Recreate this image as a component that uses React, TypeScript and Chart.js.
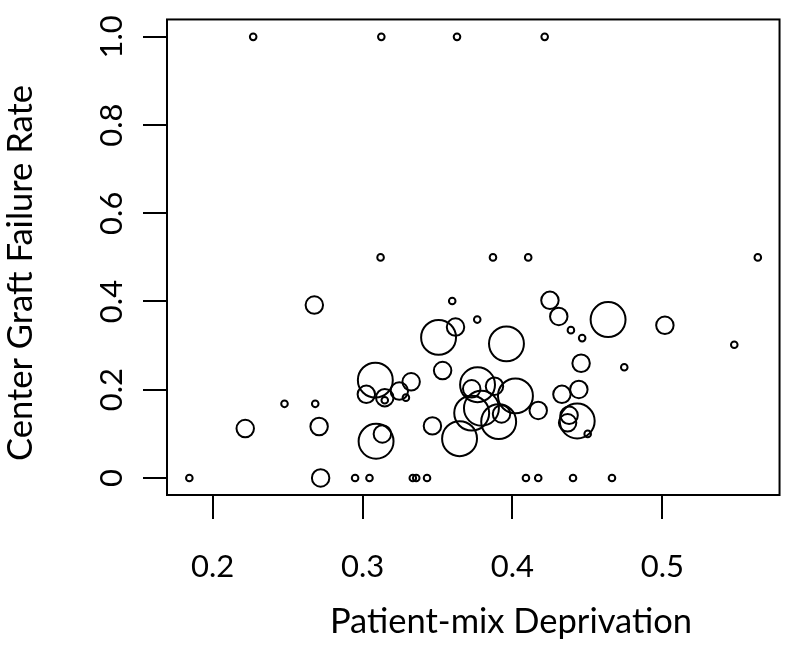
import React, { useEffect, useRef } from 'react';
import { Chart, registerables } from 'chart.js';

Chart.register(...registerables);

// Patient-mix deprivation (x), center graft failure rate (y), relative center size
const deprivation = [
  0.227, 0.3125, 0.363, 0.4215,
  0.312, 0.387, 0.4105, 0.5637,
  0.1844, 0.295, 0.3046, 0.3335, 0.3358, 0.343, 0.409, 0.4172, 0.4404, 0.4664, 0.272,
  0.2678, 0.2479, 0.2684, 0.2217, 0.271,
  0.3598, 0.3765, 0.3507, 0.362, 0.396, 0.425, 0.4309, 0.439, 0.4465, 0.4638, 0.5017, 0.548,
  0.3534, 0.3085, 0.3025, 0.3148, 0.3148, 0.3245, 0.3324, 0.3289,
  0.3767, 0.3728, 0.388, 0.402, 0.4172, 0.3728, 0.3793, 0.3908, 0.3927, 0.3466, 0.3647, 0.309, 0.3132,
  0.4458, 0.4746, 0.4443, 0.433, 0.4432, 0.4378, 0.4368, 0.4502,
];
const failureRate = [
  1.0, 1.0, 1.0, 1.0,
  0.5, 0.5, 0.5, 0.5,
  0, 0, 0, 0, 0, 0, 0, 0, 0, 0, 0,
  0.392, 0.168, 0.168, 0.112, 0.1166,
  0.401, 0.359, 0.3186, 0.342, 0.304, 0.4026, 0.366, 0.335, 0.317, 0.359, 0.346, 0.302,
  0.2435, 0.2217, 0.1895, 0.182, 0.176, 0.197, 0.218, 0.182,
  0.2114, 0.202, 0.208, 0.186, 0.153, 0.147, 0.158, 0.1276, 0.145, 0.118, 0.089, 0.083, 0.0998,
  0.26, 0.251, 0.2005, 0.1895, 0.129, 0.142, 0.125, 0.0998,
];
const centerSize = [
  1, 1, 1, 1,
  1, 1, 1, 1,
  1, 1, 1, 1, 1, 1, 1, 1, 1, 1, 7,
  7, 1, 1, 7, 7,
  1, 1, 28, 7, 28, 7, 7, 1, 1, 28, 7, 1,
  7, 28, 7, 7, 1, 7, 7, 1,
  28, 7, 7, 28, 7, 28, 28, 28, 7, 7, 28, 28, 7,
  7, 1, 7, 7, 28, 7, 7, 1,
];

const xTickValues = [0.2, 0.3, 0.4, 0.5];
const xTickLabels = ['0.2', '0.3', '0.4', '0.5'];
const yTickValues = [0, 0.2, 0.4, 0.6, 0.8, 1.0];
const yTickLabels = ['0', '0.2', '0.4', '0.6', '0.8', '1.0'];
const xTitle = 'Patient-mix Deprivation';
const yTitle = 'Center Graft Failure Rate';

const X_MIN = 0.1695;
const X_MAX = 0.5782;
const Y_MIN = -0.0387;
const Y_MAX = 1.0394;

const FONT = 'Lato, "Open Sans", sans-serif';

const radiusOf = (size: number) => 3.3 * Math.sqrt(size);

const framePlugin = {
  id: 'rFrame',
  afterDraw(chart: any) {
    const { ctx, chartArea: a, scales } = chart;
    ctx.save();
    ctx.strokeStyle = '#000';
    ctx.lineWidth = 2;
    ctx.strokeRect(a.left, a.top, a.right - a.left, a.bottom - a.top);

    ctx.fillStyle = '#000';
    ctx.textAlign = 'center';
    ctx.textBaseline = 'middle';

    // y tick labels (rotated, R style)
    ctx.font = `31px ${FONT}`;
    const ys = scales.y;
    ys.ticks.forEach((t: any, i: number) => {
      const py = ys.getPixelForValue(t.value);
      ctx.save();
      ctx.translate(112, py);
      ctx.rotate(-Math.PI / 2);
      ctx.fillText(yTickLabels[i], 0, 0);
      ctx.restore();
    });

    // axis titles
    ctx.font = `34.5px ${FONT}`;
    ctx.fillText(xTitle, 511, 622);
    ctx.save();
    ctx.translate(21, 273);
    ctx.rotate(-Math.PI / 2);
    ctx.fillText(yTitle, 0, 0);
    ctx.restore();
    ctx.restore();
  },
};

export default function App() {
  const canvasRef = useRef<HTMLCanvasElement>(null);

  useEffect(() => {
    const canvas = canvasRef.current;
    if (!canvas) return;
    const points = deprivation.map((x, i) => ({
      x,
      y: failureRate[i],
      r: radiusOf(centerSize[i]),
    }));
    const chart = new Chart(canvas, {
      type: 'bubble',
      data: {
        datasets: [
          {
            data: points,
            borderColor: '#000',
            backgroundColor: 'rgba(0,0,0,0)',
            borderWidth: 2,
            hoverBorderWidth: 2,
          },
        ],
      },
      options: {
        responsive: false,
        animation: false,
        events: [],
        layout: { padding: { top: 2, right: 3, left: 0, bottom: 0 } },
        plugins: {
          legend: { display: false },
          tooltip: { enabled: false },
        },
        scales: {
          x: {
            type: 'linear',
            min: X_MIN,
            max: X_MAX,
            afterBuildTicks: (s: any) => {
              s.ticks = xTickValues.map((v) => ({ value: v }));
            },
            afterFit: (s: any) => {
              s.height = 150;
            },
            border: { display: false },
            grid: {
              drawOnChartArea: false,
              drawTicks: true,
              tickLength: 24,
              color: '#000',
              lineWidth: 2,
            },
            ticks: {
              autoSkip: false,
              maxRotation: 0,
              minRotation: 0,
              padding: 29,
              color: '#000',
              font: { family: FONT, size: 31 },
              callback: (_v: any, i: number) => xTickLabels[i],
            },
          },
          y: {
            type: 'linear',
            min: Y_MIN,
            max: Y_MAX,
            afterBuildTicks: (s: any) => {
              s.ticks = yTickValues.map((v) => ({ value: v }));
            },
            afterFit: (s: any) => {
              s.width = 167;
            },
            border: { display: false },
            grid: {
              drawOnChartArea: false,
              drawTicks: true,
              tickLength: 24,
              color: '#000',
              lineWidth: 2,
            },
            ticks: { display: false },
          },
        },
      },
      plugins: [framePlugin],
    });
    return () => chart.destroy();
  }, []);

  return (
    <div style={{ position: 'absolute', left: 0, top: 0, width: 799, height: 645, background: '#fff' }}>
      <canvas ref={canvasRef} width={799} height={645} style={{ display: 'block', width: 799, height: 645 }} />
    </div>
  );
}
